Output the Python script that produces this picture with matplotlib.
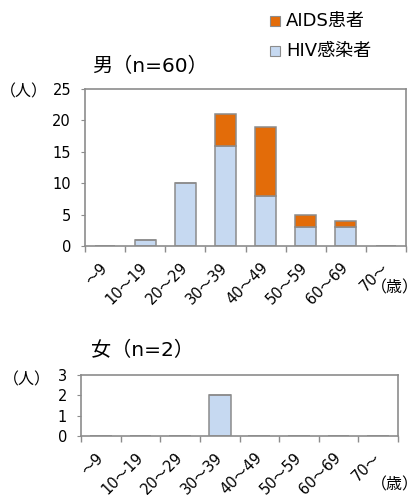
import matplotlib
matplotlib.use('Agg')
import matplotlib.pyplot as plt
import numpy as np

plt.rcParams['font.family'] = ['DejaVu Sans', 'Noto Sans CJK JP']

age_labels = ['～9', '10～19', '20～29', '30～39', '40～49', '50～59', '60～69', '70～']
male_hiv = [0, 1, 10, 16, 8, 3, 3, 0]
male_aids = [0, 0, 0, 5, 11, 2, 1, 0]
female_hiv = [0, 0, 0, 2, 0, 0, 0, 0]
female_aids = [0, 0, 0, 0, 0, 0, 0, 0]

blue = '#C6D9F1'
orange = '#E36C09'
edge = '#8C8C8C'

W, H = 419, 495
fig = plt.figure(figsize=(W / 100, H / 100), dpi=100)


def px(l, t, r, b):
    return [l / W, 1 - b / H, (r - l) / W, (b - t) / H]


def draw(ax, hiv, aids, ymax, yticks, width):
    x = np.arange(len(age_labels))
    ax.bar(x, hiv, width=width, color=blue, edgecolor=edge, linewidth=1.1)
    ax.bar(x, aids, width=width, bottom=hiv, color=orange, edgecolor=edge,
           linewidth=1.1)
    ax.set_xlim(-0.5, len(age_labels) - 0.5)
    ax.set_ylim(0, ymax)
    ax.set_yticks(yticks)
    ax.tick_params(axis='y', length=3, color=edge, labelsize=10.5, pad=7)
    ax.set_xticks(x)
    ax.set_xticklabels(age_labels, rotation=45, ha='right', va='center',
                       rotation_mode='anchor', fontsize=10.5)
    ax.set_xticks(np.arange(len(age_labels) + 1) - 0.5, minor=True)
    ax.tick_params(axis='x', which='major', length=0, pad=14)
    ax.tick_params(axis='x', which='minor', length=4, color=edge, width=1)
    for s in ax.spines.values():
        s.set_color(edge)
        s.set_linewidth(1.2)


ax1 = fig.add_axes(px(85, 89, 406, 246))
draw(ax1, male_hiv, male_aids, 25, [0, 5, 10, 15, 20, 25], 0.52)
fig.text(48 / W, 1 - 92 / H, '（人）', ha='right', va='center', fontsize=11.5)
fig.text(419 / W, 1 - 288 / H, '（歳）', ha='right', va='center', fontsize=11.5)
fig.text(92 / W, 1 - 66 / H, '男（n=60）', ha='left', va='center', fontsize=14.5)

ax2 = fig.add_axes(px(81, 375, 398, 436))
draw(ax2, female_hiv, female_aids, 3, [0, 1, 2, 3], 0.55)
fig.text(51 / W, 1 - 380 / H, '（人）', ha='right', va='center', fontsize=11.5)
fig.text(419 / W, 1 - 485 / H, '（歳）', ha='right', va='center', fontsize=11.5)
fig.text(91 / W, 1 - 350 / H, '女（n=2）', ha='left', va='center', fontsize=14.5)

# legend
fig.patches.append(plt.Rectangle((270 / W, 1 - 26 / H), 10 / W, 10 / H,
                                 transform=fig.transFigure, facecolor=orange,
                                 edgecolor=edge, linewidth=0.8))
fig.patches.append(plt.Rectangle((270 / W, 1 - 56 / H), 10 / W, 10 / H,
                                 transform=fig.transFigure, facecolor=blue,
                                 edgecolor=edge, linewidth=0.8))
fig.text(286 / W, 1 - 21 / H, 'AIDS患者', ha='left', va='center', fontsize=13)
fig.text(286 / W, 1 - 51 / H, 'HIV感染者', ha='left', va='center', fontsize=13)

fig.savefig('out.png', dpi=100)
